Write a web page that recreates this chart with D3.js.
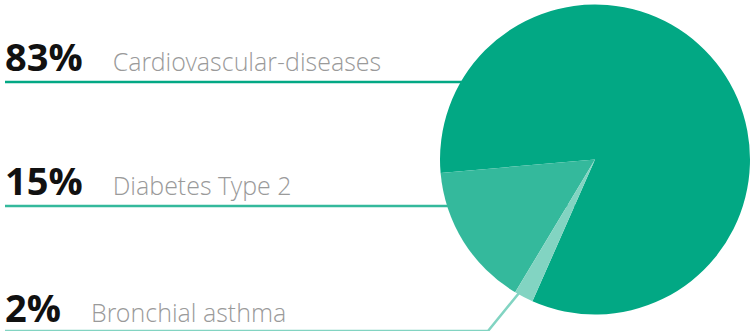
<!DOCTYPE html>
<html><head><meta charset="utf-8">
<script src="https://cdn.jsdelivr.net/npm/d3@7"></script>
<style>html,body{margin:0;padding:0;background:#fff;overflow:hidden}</style>
</head><body>
<svg id="c" width="751" height="331"></svg>
<script>
const categories = ["Cardiovascular-diseases", "Diabetes Type 2", "Bronchial asthma"];
const values = [83, 15, 2];
const percentLabels = ["83%", "15%", "2%"];
const colors = ["#02a884", "#34b99c", "#82d4c2"];

const W = 751, H = 331;
const cx = 595, cy = 159.5, R = 155;
const rowY = [82, 206, 331];      // leader line y
const textY = [71, 195, 322];     // baseline y
const svg = d3.select("#c");
const gLines = svg.append("g");
const gPie = svg.append("g").attr("transform", `translate(${cx},${cy})`);
const gText = svg.append("g");

const data = categories.map((c, i) => ({ name: c, value: values[i], label: percentLabels[i], color: colors[i], i }));
const pie = d3.pie().value(d => d.value).sort((a, b) => a.value - b.value)
  .startAngle(203.8 * Math.PI / 180).endAngle((203.8 + 360) * Math.PI / 180);
const arcs = pie(data);
const arc = d3.arc().innerRadius(0).outerRadius(R);

arcs.forEach(a => {
  const i = a.data.i;
  if (i < 2) {
    gLines.append("line").attr("x1", 5).attr("x2", cx).attr("y1", rowY[i]).attr("y2", rowY[i])
      .attr("stroke", a.data.color).attr("stroke-width", 2.5);
  } else {
    const [px, py] = d3.arc().innerRadius(0).outerRadius(2 * 125).centroid(a);
    gLines.append("polyline")
      .attr("points", `5,${rowY[i]} 488,${rowY[i]} ${cx + px},${cy + py}`)
      .attr("fill", "none").attr("stroke", a.data.color).attr("stroke-width", 2.5);
  }
});

gPie.selectAll("path").data(arcs).join("path").attr("d", arc).attr("fill", d => d.data.color);

data.forEach((d, i) => {
  const num = gText.append("text").attr("x", 5).attr("y", textY[i])
    .attr("font-family", "'Open Sans', sans-serif").attr("font-weight", 700)
    .attr("font-size", 38).attr("fill", "#111").text(d.label);
  const w = num.node().getComputedTextLength();
  gText.append("text").attr("x", 5 + w + 30).attr("y", textY[i])
    .attr("font-family", "'Open Sans Light', 'Open Sans', sans-serif").attr("font-weight", 300)
    .attr("font-size", 25).attr("fill", "#9a9a9a").text(d.name);
});
</script>
</body></html>
